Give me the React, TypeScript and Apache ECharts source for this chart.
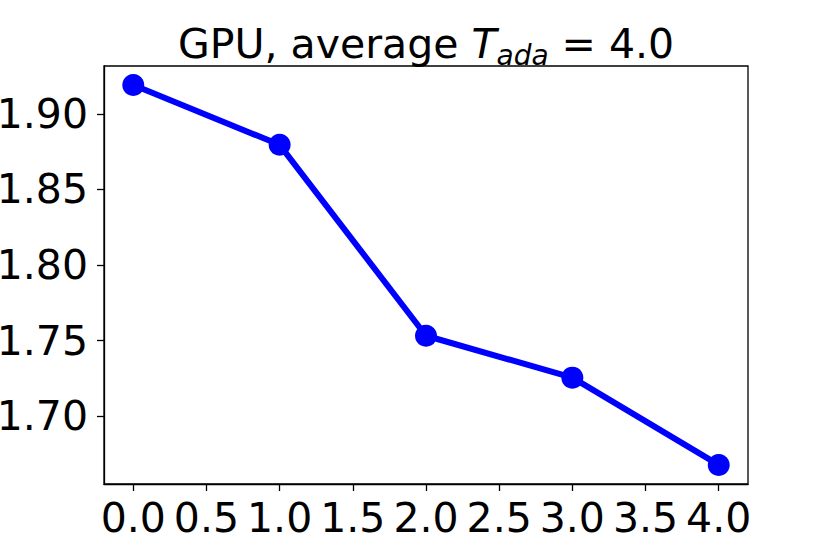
import React, { useEffect, useRef } from "react";
import * as echarts from "echarts";

const xValues = [0, 1, 2, 3, 4];
const yValues = [1.919, 1.8795, 1.7533, 1.7256, 1.6679];
const xTicks = [0, 0.5, 1.0, 1.5, 2.0, 2.5, 3.0, 3.5, 4.0];
const yTicks = [1.70, 1.75, 1.80, 1.85, 1.90];
const titleNormal1 = "GPU, average ";
const titleItalic = "T";
const titleSub = "ada";
const titleNormal2 = " = 4.0";

const FONT = "DejaVu Sans";

export default function App() {
  const ref = useRef<HTMLDivElement>(null);
  useEffect(() => {
    document.body.style.margin = "0";
    if (!ref.current) return;
    const chart = echarts.init(ref.current, null, { renderer: "svg" });
    chart.setOption({
      animation: false,
      backgroundColor: "#ffffff",
      title: {
        text: `{n|${titleNormal1}}{i|${titleItalic}}{s|${titleSub}}{n|${titleNormal2}}`,
        left: 178,
        top: 19,
        padding: 0,
        textStyle: {
          fontWeight: "normal",
          rich: {
            n: { fontFamily: FONT, fontSize: 41, fontWeight: "normal", color: "#000", lineHeight: 50 },
            i: { fontFamily: FONT, fontSize: 41, fontWeight: "normal", fontStyle: "italic", color: "#000", lineHeight: 50 },
            s: { fontFamily: FONT, fontSize: 28, fontWeight: "normal", fontStyle: "italic", color: "#000", lineHeight: 33, verticalAlign: "bottom" },
          },
        },
      },
      grid: {
        left: 104,
        right: 83,
        top: 66,
        bottom: 70,
        outerBoundsMode: "none",
        containLabel: false,
        show: true,
        borderColor: "#000",
        borderWidth: 1.3,
        backgroundColor: "transparent",
      },
      xAxis: {
        type: "value",
        min: -0.2,
        max: 4.2,
        splitLine: { show: false },
        axisLine: { show: true, onZero: false, lineStyle: { color: "#000", width: 1.3 } },
        axisTick: { show: true, length: 7, inside: false, lineStyle: { color: "#000", width: 1.3 }, customValues: xTicks },
        axisLabel: {
          customValues: xTicks,
          formatter: (v: number) => v.toFixed(1),
          fontFamily: FONT,
          fontSize: 41,
          color: "#000",
          margin: 13,
        },
      },
      yAxis: {
        type: "value",
        min: 1.6553,
        max: 1.9316,
        splitLine: { show: false },
        axisLine: { show: true, onZero: false, lineStyle: { color: "#000", width: 1.3 } },
        axisTick: { show: true, length: 7, inside: false, lineStyle: { color: "#000", width: 1.3 }, customValues: yTicks },
        axisLabel: {
          customValues: yTicks,
          formatter: (v: number) => v.toFixed(2),
          fontFamily: FONT,
          fontSize: 41,
          color: "#000",
          margin: 16,
        },
      },
      series: [
        {
          type: "line",
          data: xValues.map((x, i) => [x, yValues[i]]),
          symbol: "circle",
          symbolSize: 22,
          lineStyle: { color: "#0000ff", width: 6 },
          itemStyle: { color: "#0000ff" },
          clip: false,
        },
      ],
    });
    return () => chart.dispose();
  }, []);
  return <div ref={ref} style={{ width: 831, height: 554 }} />;
}
